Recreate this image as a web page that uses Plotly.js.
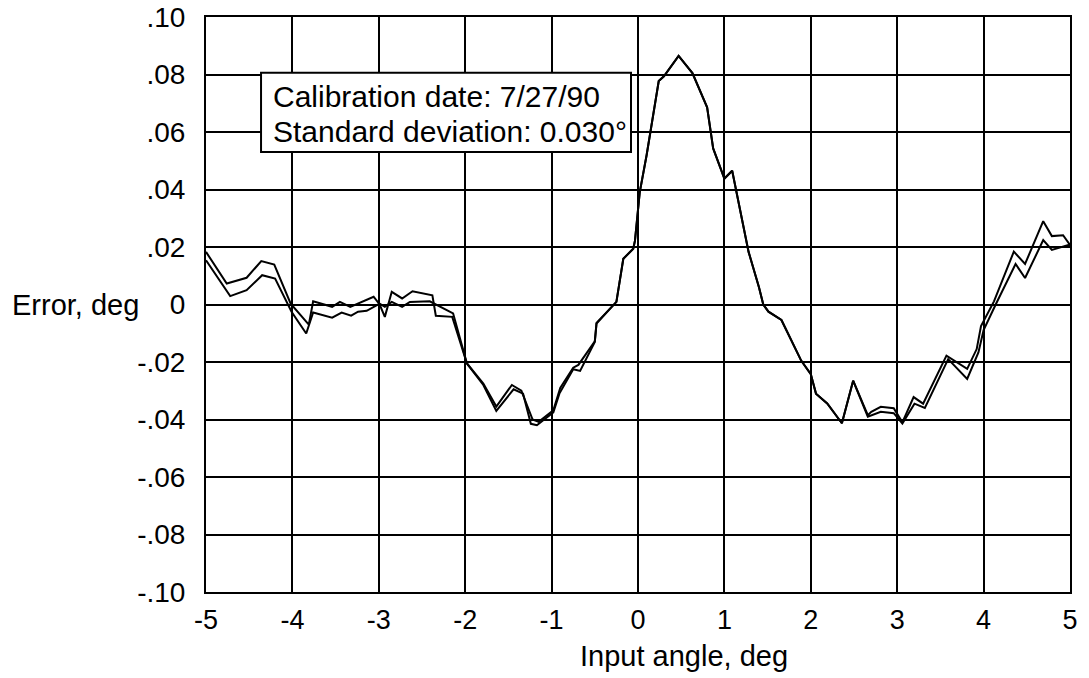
<!DOCTYPE html>
<html>
<head>
<meta charset="utf-8">
<script src="https://cdn.plot.ly/plotly-3.0.1.min.js"></script>
<style>
  html, body { margin: 0; padding: 0; background: #fff; }
  #chart { width: 1089px; height: 678px; }
</style>
</head>
<body>
<div id="chart"></div>
<script>
// Run A (upper curve on the left side)
const xA = [-5, -4.76, -4.53, -4.36, -4.21, -4.02, -3.81, -3.76, -3.54, -3.45, -3.33, -3.25, -3.06, -2.99, -2.93, -2.85, -2.73, -2.61, -2.38, -2.34, -2.15,
  -1.98, -1.79, -1.64, -1.46, -1.35, -1.22, -1.15, -0.98, -0.90, -0.75, -0.69, -0.50, -0.48, -0.25,
  -0.17, -0.055, -0.035, 0.02, 0.10, 0.24, 0.30, 0.47, 0.63, 0.80, 0.87, 1.00, 1.09, 1.28, 1.40, 1.45, 1.51, 1.66, 1.89, 2.00, 2.06, 2.19, 2.36, 2.49,
  2.66, 2.70, 2.81, 2.96, 3.06, 3.19, 3.30, 3.57, 3.81, 3.92, 3.97, 4.12, 4.35, 4.48, 4.69, 4.79, 4.92, 5.00];
const yA = [0.0183, 0.0073, 0.0093, 0.0151, 0.0139, 0.0003, -0.0070, 0.0011, -0.0008, 0.0009, -0.0008, 0.0003, 0.0027, 0.0000, -0.0043, 0.0044, 0.0021, 0.0046, 0.0032, -0.0039, -0.0043,
  -0.0205, -0.0275, -0.0355, -0.0280, -0.0300, -0.0400, -0.0408, -0.0368, -0.0290, -0.0220, -0.0210, -0.0128, -0.0064, 0.0009,
  0.0159, 0.0194, 0.0222, 0.0390, 0.0520, 0.0777, 0.0794, 0.0865, 0.0805, 0.0686, 0.0543, 0.0438, 0.0465, 0.0183, 0.0060, 0.0000, -0.0025, -0.0054, -0.0196, -0.0242, -0.0310, -0.0344, -0.0413, -0.0265,
  -0.0385, -0.0373, -0.0356, -0.0361, -0.0410, -0.0322, -0.0345, -0.0178, -0.0224, -0.0155, -0.0075, 0.0011, 0.0184, 0.0141, 0.0290, 0.0238, 0.0241, 0.0207];

// Run B (lower curve on the left side)
const xB = [-5, -4.72, -4.53, -4.35, -4.20, -4.01, -3.84, -3.76, -3.54, -3.43, -3.32, -3.24, -3.14, -2.99, -2.93, -2.85, -2.73, -2.64, -2.41, -2.14,
  -1.98, -1.79, -1.64, -1.44, -1.33, -1.24, -1.17, -0.98, -0.91, -0.75, -0.67, -0.50, -0.48, -0.25,
  -0.17, -0.055, -0.035, 0.02, 0.10, 0.24, 0.30, 0.47, 0.63, 0.80, 0.87, 1.00, 1.09, 1.28, 1.40, 1.45, 1.51, 1.66, 1.89, 2.00, 2.06, 2.19, 2.36, 2.49,
  2.66, 2.81, 2.96, 3.06, 3.20, 3.32, 3.59, 3.81, 3.94, 4.00, 4.14, 4.37, 4.48, 4.69, 4.79, 4.98, 5.00];
const yB = [0.0154, 0.0029, 0.0050, 0.0102, 0.0090, -0.0025, -0.0101, -0.0028, -0.0046, -0.0028, -0.0039, -0.0025, -0.0022, 0.0003, -0.0008, 0.0009, -0.0008, 0.0009, 0.0011, -0.0031,
  -0.0205, -0.0280, -0.0370, -0.0295, -0.0310, -0.0415, -0.0420, -0.0375, -0.0310, -0.0225, -0.0231, -0.0130, -0.0066, 0.0009,
  0.0159, 0.0194, 0.0222, 0.0390, 0.0520, 0.0777, 0.0794, 0.0865, 0.0805, 0.0686, 0.0543, 0.0438, 0.0465, 0.0183, 0.0060, 0.0000, -0.0025, -0.0054, -0.0196, -0.0242, -0.0310, -0.0344, -0.0413, -0.0265,
  -0.0390, -0.0373, -0.0378, -0.0414, -0.0345, -0.0360, -0.0190, -0.0259, -0.0167, -0.0089, 0.0000, 0.0141, 0.0092, 0.0224, 0.0190, 0.0207, 0.0205];

const xTickVals = [-5, -4, -3, -2, -1, 0, 1, 2, 3, 4, 5];
const xTickText = ['-5', '-4', '-3', '-2', '-1', '0', '1', '2', '3', '4', '5'];
const yTickVals = [0.10, 0.08, 0.06, 0.04, 0.02, 0, -0.02, -0.04, -0.06, -0.08, -0.10];
const yTickText = ['.10', '.08', '.06', '.04', '.02', '0', '-.02', '-.04', '-.06', '-.08', '-.10'];

const xTitle = 'Input angle, deg';
const yTitle = 'Error, deg';
const noteLines = ['Calibration date: 7/27/90', 'Standard deviation: 0.030°'];

const FONT = 'Liberation Sans, Arial, Helvetica, sans-serif';

const traces = [
  { x: xA, y: yA, type: 'scatter', mode: 'lines', line: { color: '#000', width: 2 }, hoverinfo: 'skip' },
  { x: xB, y: yB, type: 'scatter', mode: 'lines', line: { color: '#000', width: 2 }, hoverinfo: 'skip' }
];

const layout = {
  width: 1089, height: 678,
  margin: { l: 206, r: 19, t: 17, b: 86 },
  paper_bgcolor: '#fff', plot_bgcolor: '#fff',
  showlegend: false,
  font: { family: FONT, color: '#000', size: 27 },
  xaxis: {
    range: [-5, 5], tickvals: xTickVals, ticktext: xTickText,
    showgrid: true, gridcolor: '#000', gridwidth: 2,
    showline: true, mirror: true, linecolor: '#000', linewidth: 2,
    zeroline: false, ticks: '', ticklabelstandoff: 3,
    tickfont: { family: FONT, size: 27, color: '#000' }
  },
  yaxis: {
    range: [-0.10, 0.10], tickvals: yTickVals, ticktext: yTickText,
    showgrid: true, gridcolor: '#000', gridwidth: 2,
    showline: true, mirror: true, linecolor: '#000', linewidth: 2,
    zeroline: false, ticks: '', ticklabelstandoff: 13,
    tickfont: { family: FONT, size: 28, color: '#000' }
  },
  shapes: [
    { type: 'rect', xref: 'paper', yref: 'paper', x0: 0.0637, x1: 0.4919, y0: 0.7652, y1: 0.9031,
      line: { color: '#000', width: 2 }, fillcolor: '#fff', layer: 'above' }
  ],
  annotations: [
    { text: yTitle, xref: 'paper', yref: 'y', x: -0.075, y: 0, xanchor: 'right', yanchor: 'middle',
      showarrow: false, font: { family: FONT, size: 29, color: '#000' } },
    { text: xTitle, xref: 'paper', yref: 'paper', x: 0.553, y: -0.112, xanchor: 'center', yanchor: 'middle',
      showarrow: false, font: { family: FONT, size: 29, color: '#000' } },
    { text: noteLines[0], xref: 'paper', yref: 'paper', x: 0.0749, y: 0.8614, xanchor: 'left', yanchor: 'middle',
      showarrow: false, font: { family: FONT, size: 30, color: '#000' } },
    { text: noteLines[1], xref: 'paper', yref: 'paper', x: 0.0749, y: 0.8005, xanchor: 'left', yanchor: 'middle',
      showarrow: false, font: { family: FONT, size: 30, color: '#000' } }
  ]
};

Plotly.newPlot('chart', traces, layout, { staticPlot: true, displayModeBar: false });
</script>
</body>
</html>
